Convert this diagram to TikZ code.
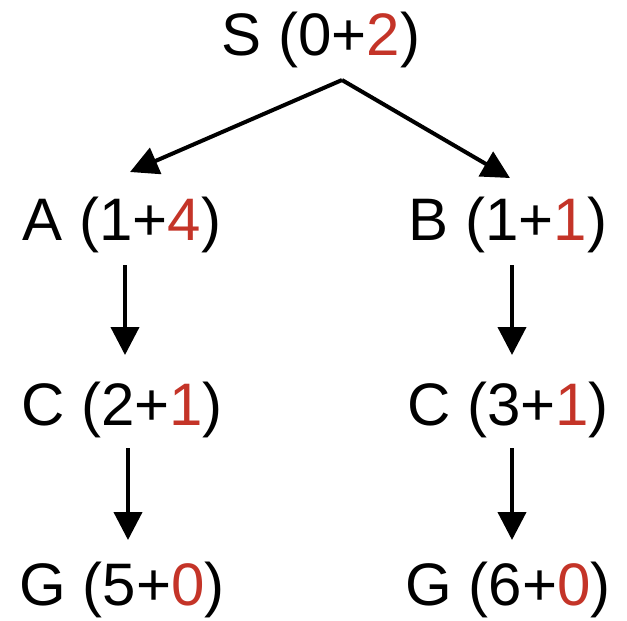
\documentclass[tikz,border=0pt]{standalone}
\usepackage{fontspec}
\setmainfont{Liberation Sans}
\usetikzlibrary{arrows.meta}
\definecolor{hred}{RGB}{196,52,40}
\begin{document}
\begin{tikzpicture}[x=1pt,y=-1pt,
  lbl/.style={anchor=base,inner sep=0pt,font=\fontsize{60}{60}\selectfont},
  arr/.style={line width=4pt,-{Triangle[length=28pt,width=28pt]}}]
\useasboundingbox (0,0) rectangle (627,621);
\node[lbl] (S) at (321,55) {S (0+\textcolor{hred}{2})};
\node[lbl] (A) at (122,240) {A (1+\textcolor{hred}{4})};
\node[lbl] (B) at (508,240) {B (1+\textcolor{hred}{1})};
\node[lbl] (C1) at (122,425) {C (2+\textcolor{hred}{1})};
\node[lbl] (C2) at (508,425) {C (3+\textcolor{hred}{1})};
\node[lbl] (G1) at (122,605) {G (5+\textcolor{hred}{0})};
\node[lbl] (G2) at (508,605) {G (6+\textcolor{hred}{0})};
\coordinate (fork) at ([xshift=21pt,yshift=-12.4pt]S.south);
\draw[arr] (fork) -- ([xshift=8pt,yshift=24.3pt]A.north);
\draw[arr] (fork) -- ([xshift=2pt,yshift=18.3pt]B.north);
\draw[arr] ([xshift=3pt,yshift=-12.4pt]A.south) -- ([xshift=3pt,yshift=26.3pt]C1.north);
\draw[arr] ([xshift=4pt,yshift=-12.4pt]B.south) -- ([xshift=4pt,yshift=26.3pt]C2.north);
\draw[arr] ([xshift=6pt,yshift=-10.4pt]C1.south) -- ([xshift=6pt,yshift=21.3pt]G1.north);
\draw[arr] ([xshift=4pt,yshift=-10.4pt]C2.south) -- ([xshift=4pt,yshift=21.3pt]G2.north);
\end{tikzpicture}
\end{document}
